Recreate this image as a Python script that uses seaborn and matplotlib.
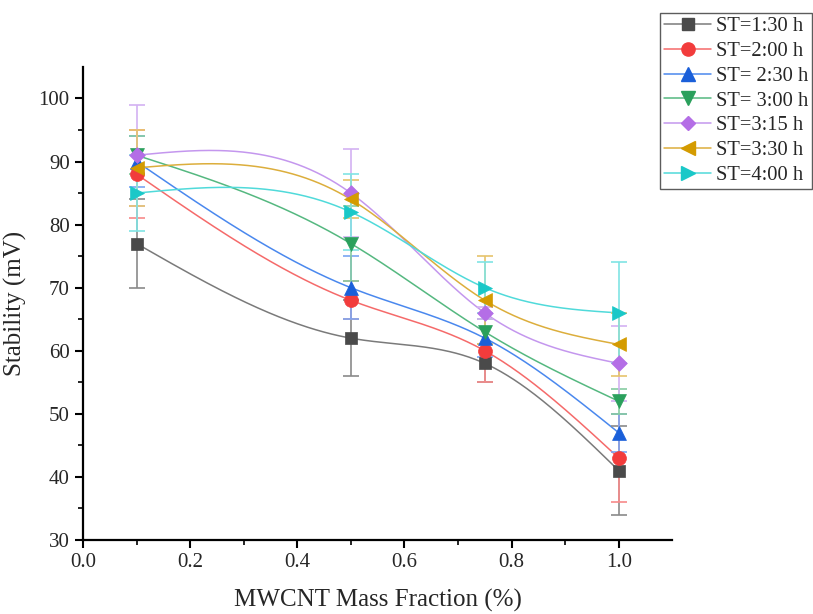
import numpy as np
import pandas as pd
import matplotlib
matplotlib.use("Agg")
import matplotlib.pyplot as plt
from matplotlib.lines import Line2D
import seaborn as sns

x_vals = [0.1, 0.5, 0.75, 1.0]
labels = ["ST=1:30 h", "ST=2:00 h", "ST= 2:30 h", "ST= 3:00 h", "ST=3:15 h", "ST=3:30 h", "ST=4:00 h"]
y_130 = [77, 62, 58, 41]
y_200 = [88, 68, 60, 43]
y_230 = [90, 70, 62, 47]
y_300 = [91, 77, 63, 52]
y_315 = [91, 85, 66, 58]
y_330 = [89, 84, 68, 61]
y_400 = [85, 82, 70, 66]
e_130 = [7, 6, 3, 7]
e_200 = [7, 3, 5, 7]
e_230 = [4, 5, 3, 3]
e_300 = [3, 6, 2, 2]
e_315 = [8, 7, 1, 6]
e_330 = [6, 3, 7, 5]
e_400 = [6, 6, 4, 8]

series = [y_130, y_200, y_230, y_300, y_315, y_330, y_400]
errors = [e_130, e_200, e_230, e_300, e_315, e_330, e_400]
markers = ["s", "o", "^", "v", "D", "<", ">"]
msizes = [9, 10, 10, 10, 8, 10, 10]
mcolors = ["#4a4a4a", "#f23c3c", "#1a5fd9", "#2aa05c", "#b46ee6", "#d49b00", "#1ac8c8"]
lcolors = ["#7a7a7a", "#f56a6a", "#4a88ee", "#55b880", "#c497ee", "#dcae3c", "#50dada"]
ecolors = ["#8a8a8a", "#f78a8a", "#7aa6f2", "#86cca2", "#d3b2f2", "#e6c46c", "#80e4e4"]


def natural_spline(xk, yk, xs):
    xk = np.asarray(xk, float)
    yk = np.asarray(yk, float)
    n = len(xk)
    h = np.diff(xk)
    A = np.zeros((n, n))
    b = np.zeros(n)
    A[0, 0] = 1
    A[-1, -1] = 1
    for i in range(1, n - 1):
        A[i, i - 1] = h[i - 1]
        A[i, i] = 2 * (h[i - 1] + h[i])
        A[i, i + 1] = h[i]
        b[i] = 3 * ((yk[i + 1] - yk[i]) / h[i] - (yk[i] - yk[i - 1]) / h[i - 1])
    c = np.linalg.solve(A, b)
    out = np.empty_like(xs)
    for j, xv in enumerate(xs):
        i = min(np.searchsorted(xk, xv, side="right") - 1, n - 2)
        i = max(i, 0)
        dx = xv - xk[i]
        bi = (yk[i + 1] - yk[i]) / h[i] - h[i] * (2 * c[i] + c[i + 1]) / 3
        di = (c[i + 1] - c[i]) / (3 * h[i])
        out[j] = yk[i] + bi * dx + c[i] * dx ** 2 + di * dx ** 3
    return out


sns.set_style("ticks")
plt.rcParams["font.family"] = ["Liberation Serif", "DejaVu Serif"]
plt.rcParams["mathtext.fontset"] = "stix"

fig = plt.figure(figsize=(8.13, 6.14), dpi=100)
ax = fig.add_axes([0.102, 0.1205, 0.725, 0.7705])

xs = np.linspace(x_vals[0], x_vals[-1], 300)
handles = []
for k in range(len(series)):
    ys = natural_spline(x_vals, series[k], xs)
    sns.lineplot(x=xs, y=ys, ax=ax, color=lcolors[k], linewidth=1.1, zorder=2, legend=False)
for k in range(len(series)):
    ax.errorbar(x_vals, series[k], yerr=errors[k], fmt="none", ecolor=ecolors[k],
                elinewidth=1.2, capsize=6, capthick=1.2, zorder=3)
for k in range(len(series)):
    df = pd.DataFrame({"x": x_vals, "y": series[k]})
    sns.scatterplot(data=df, x="x", y="y", ax=ax, marker=markers[k], s=msizes[k] ** 2,
                    color=mcolors[k], edgecolor=mcolors[k], linewidth=0.5, zorder=4, legend=False)
    handles.append(Line2D([0], [0], color=lcolors[k], marker=markers[k], markersize=msizes[k] * 0.95,
                          markerfacecolor=mcolors[k], markeredgecolor=mcolors[k], linewidth=1.1))

ax.set_xlim(0, 1.1)
ax.set_ylim(30, 105)
ax.set_xticks([0.0, 0.2, 0.4, 0.6, 0.8, 1.0])
ax.set_xticklabels(["0.0", "0.2", "0.4", "0.6", "0.8", "1.0"])
ax.set_xticks(np.arange(0.1, 1.1, 0.2), minor=True)
ax.set_yticks(range(30, 101, 10))
ax.set_yticks(range(35, 105, 10), minor=True)
ax.tick_params(axis="both", which="major", direction="out", length=6, width=1.5, labelsize=15, color="black")
ax.tick_params(axis="both", which="minor", direction="out", length=3.5, width=1.2, color="black")
for s in ["left", "bottom"]:
    ax.spines[s].set_linewidth(1.6)
    ax.spines[s].set_color("black")
sns.despine(ax=ax)
ax.set_xlabel("MWCNT Mass Fraction (%)", fontsize=18, labelpad=12)
ax.set_ylabel("Stability (mV)", fontsize=18, labelpad=8)

leg = fig.legend(handles, labels, loc="upper right", bbox_to_anchor=(0.999, 0.979), fontsize=14.8,
                 frameon=True, fancybox=False, edgecolor="#333333", handlelength=2.25,
                 handletextpad=0.25, borderpad=0.2, labelspacing=0.26, borderaxespad=0.0)
leg.get_frame().set_linewidth(1.0)

fig.savefig("out.png", dpi=100)
